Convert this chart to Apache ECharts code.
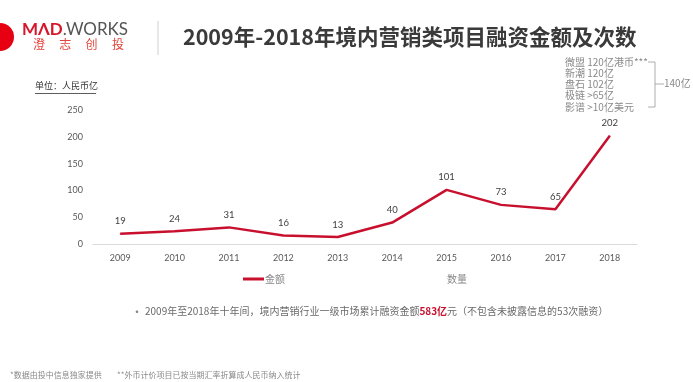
<!DOCTYPE html>
<html><head><meta charset="utf-8">
<script src="https://cdn.jsdelivr.net/npm/echarts@6/dist/echarts.min.js"></script>
<style>html,body{margin:0;padding:0;background:#fff}#c{width:693px;height:382px}</style>
</head><body><div id="c"></div>
<script>
const years = ['2009','2010','2011','2012','2013','2014','2015','2016','2017','2018'];
const amounts = [19,24,31,16,13,40,101,73,65,202];
const counts = [];
const yTicks = [0,50,100,150,200,250];
const noteLines = ['微盟 120亿港币***','新潮 120亿','盘石 102亿','极链 >65亿','影谱 >10亿美元'];
const noteTotal = '140亿';
const title = '2009年-2018年境内营销类项目融资金额及次数';
const brandCn = ['澄','志','创','投'];
const unitLabel = '单位：人民币亿';
const bulletPre = '2009年至2018年十年间，境内营销行业一级市场累计融资金额';
const bulletHi = '583亿';
const bulletPost = '元（不包含未披露信息的53次融资）';
const foot1 = '*数据由投中信息独家提供';
const foot2 = '**外币计价项目已按当期汇率折算成人民币纳入统计';

const CJK = '"Noto Sans CJK SC","Noto Sans",sans-serif';
const NUM = 'Lato,"Noto Sans",sans-serif';
const RED = '#c8102e';

const chart = echarts.init(document.getElementById('c'));
const noteEls = noteLines.map((t,i)=>({type:'text',left:565,top:57+i*11.2,style:{text:t,font:'10px '+CJK,fill:'#8a8a8a'}}));
const brandEls = brandCn.map((t,i)=>({type:'text',left:33+i*26.3,top:38,style:{text:t,font:'12px '+CJK,fill:'#e0443a'}}));
chart.setOption({
  animation:false,
  grid:{left:93,right:56,top:110,bottom:138},
  legend:{bottom:93,left:238,itemGap:140,itemWidth:21,itemHeight:3,
    textStyle:{fontFamily:CJK,fontSize:10,color:'#888',padding:[0,0,0,-4]},
    data:[{name:'金额',icon:'rect'},{name:'数量',icon:'rect',itemStyle:{color:'rgba(0,0,0,0)'}}]},
  xAxis:{type:'category',data:years,boundaryGap:true,
    axisLine:{lineStyle:{color:'#d9d9d9'}},axisTick:{show:false},
    axisLabel:{fontFamily:NUM,fontSize:9,color:'#595959',margin:10}},
  yAxis:{type:'value',min:0,max:250,interval:50,
    axisLabel:{fontFamily:NUM,fontSize:9,color:'#595959',margin:10,formatter:v=>yTicks.includes(v)?String(v):''},
    splitLine:{show:false},axisLine:{show:false},axisTick:{show:false}},
  series:[
    {name:'金额',type:'line',data:amounts,symbol:'circle',symbolSize:1,showSymbol:true,lineStyle:{color:RED,width:2.5},itemStyle:{color:RED},
     label:{show:true,position:'top',distance:7,fontFamily:NUM,fontSize:9.5,color:'#404040'}},
    {name:'数量',type:'line',data:counts,symbol:'none',lineStyle:{color:'rgba(0,0,0,0)'},itemStyle:{color:'rgba(0,0,0,0)'}}
  ],
  graphic:[
    {type:'circle',shape:{cx:0,cy:37,r:14},style:{fill:'#e60012'}},
    {type:'text',left:22,top:21,style:{rich:{a:{font:'bold 17px '+NUM,fill:'#d7162a'},b:{font:'17px '+NUM,fill:'#555'}},text:'{a|MΛD}{b|.WORKS}'}},
    ...brandEls,
    {type:'line',shape:{x1:158,y1:21,x2:158,y2:55},style:{stroke:'#d0d0d0',lineWidth:1}},
    {type:'text',left:183,top:26,style:{text:title,font:'bold 21.5px '+CJK,fill:'#3a3a3a'}},
    {type:'text',left:35,top:81,style:{text:unitLabel,font:'9px '+CJK,fill:'#333'}},
    {type:'line',shape:{x1:35,y1:93.5,x2:96,y2:93.5},style:{stroke:'#333',lineWidth:0.8}},
    ...noteEls,
    {type:'polyline',shape:{points:[[648,62],[655,62],[655,107],[648,107]]},style:{stroke:'#999',fill:null,lineWidth:0.8}},
    {type:'line',shape:{x1:655,y1:84,x2:664,y2:84},style:{stroke:'#999',lineWidth:0.8}},
    {type:'text',left:664,top:78,style:{text:noteTotal,font:'10px '+CJK,fill:'#8a8a8a'}},
    {type:'text',left:131,top:306,style:{text:'•',font:'12px '+CJK,fill:'#888'}},
    {type:'text',left:145,top:306,style:{rich:{n:{font:'10px '+CJK,fill:'#6a6a6a'},h:{font:'bold 10px '+CJK,fill:RED}},text:'{n|'+bulletPre+'}{h|'+bulletHi+'}{n|'+bulletPost+'}'}},
    {type:'text',left:10,top:371,style:{text:foot1,font:'8px '+CJK,fill:'#888'}},
    {type:'text',left:117,top:371,style:{text:foot2,font:'8px '+CJK,fill:'#888'}}
  ]
});
</script></body></html>
